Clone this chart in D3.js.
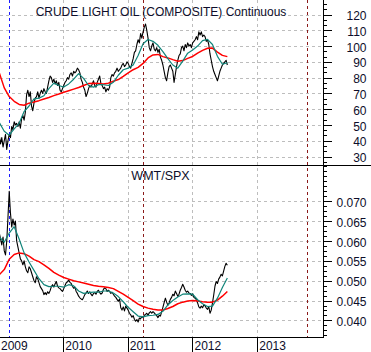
<!DOCTYPE html>
<html>
<head>
<meta charset="utf-8">
<script src="https://cdn.jsdelivr.net/npm/d3@7"></script>
<style>
  body { margin: 0; background: #fff; }
  svg { display: block; font-family: "Liberation Sans", Arial, sans-serif; }
</style>
</head>
<body>
<div id="chart"></div>
<script>
// weekly closes, starting Mon 5 Jan 2009
const oilClose = [
  43, 38, 42, 36, 40, 44,
  34.5, 40, 44, 42, 49, 47, 52, 50, 51, 49, 52, 48, 54, 56, 53, 58,
  69, 72, 68, 71, 62, 59, 64, 67, 68, 71, 67, 70, 72, 70, 73, 71,
  70, 74, 78, 81, 80, 77, 79, 76, 78, 75, 77, 72, 71, 73, 75, 77,
  78, 80, 79, 82, 83, 81, 84, 83, 84, 86, 85, 83, 79, 77, 74, 72,
  68, 70, 73, 75, 74, 76, 78, 75, 74, 77, 79, 81, 76, 75, 73, 74,
  71, 73, 72, 74, 80, 82, 81, 83, 84, 86, 84, 85, 86, 88, 89, 87,
  88, 90, 89, 87, 86, 89, 92, 96, 97, 101, 104, 102, 108, 105, 109, 112,
  114, 110, 105, 99, 97, 100, 102, 98, 97, 99, 96, 98, 93, 91, 88, 84,
  80, 78, 83, 87, 88, 86, 84, 77, 82, 87, 91, 94, 95, 99, 100, 97,
  101, 99, 102, 100, 101, 99, 102, 103, 104, 106, 104, 109, 107, 109, 106, 107,
  106, 103, 104, 101, 95, 91, 87, 84, 82, 80, 78, 81, 84, 86, 88, 89,
  90, 91, 88
]

const wmtClose = [
  0.0620, 0.0605, 0.0590, 0.0610, 0.0575, 0.0565,
  0.0600, 0.0660, 0.0725, 0.0670, 0.0635, 0.0655, 0.0640, 0.0650, 0.0600, 0.0585, 0.0570, 0.0555, 0.0550, 0.0540, 0.0550, 0.0535,
  0.0525, 0.0520, 0.0535, 0.0530, 0.0520, 0.0510, 0.0500, 0.0495, 0.0510, 0.0505, 0.0495, 0.0485, 0.0480, 0.0475, 0.0465, 0.0470,
  0.0465, 0.0472, 0.0468, 0.0475, 0.0485, 0.0490, 0.0484, 0.0492, 0.0498, 0.0486, 0.0482, 0.0480, 0.0476, 0.0473, 0.0480, 0.0488,
  0.0495, 0.0497, 0.0502, 0.0496, 0.0493, 0.0486, 0.0481, 0.0484, 0.0473, 0.0468, 0.0461, 0.0457, 0.0454, 0.0452, 0.0458, 0.0465,
  0.0469, 0.0474, 0.0468, 0.0472, 0.0466, 0.0462, 0.0468, 0.0470, 0.0466, 0.0473, 0.0476, 0.0470, 0.0466, 0.0469, 0.0478, 0.0482,
  0.0480, 0.0473, 0.0476, 0.0473, 0.0468, 0.0471, 0.0466, 0.0461, 0.0458, 0.0453, 0.0448, 0.0454, 0.0432, 0.0426, 0.0434, 0.0424,
  0.0436, 0.0431, 0.0426, 0.0418, 0.0414, 0.0408, 0.0412, 0.0403, 0.0398, 0.0402, 0.0396, 0.0406, 0.0404, 0.0410, 0.0407, 0.0413,
  0.0415, 0.0418, 0.0413, 0.0419, 0.0422, 0.0418, 0.0422, 0.0419, 0.0415, 0.0412, 0.0407, 0.0413, 0.0411, 0.0422, 0.0433, 0.0445,
  0.0456, 0.0446, 0.0438, 0.0444, 0.0453, 0.0458, 0.0466, 0.0462, 0.0474, 0.0468, 0.0461, 0.0466, 0.0476, 0.0483, 0.0491, 0.0484,
  0.0476, 0.0471, 0.0474, 0.0469, 0.0468, 0.0463, 0.0467, 0.0458, 0.0456, 0.0452, 0.0444, 0.0434, 0.0431, 0.0436, 0.0432, 0.0439,
  0.0437, 0.0431, 0.0428, 0.0435, 0.0418, 0.0426, 0.0444, 0.0464, 0.0486, 0.0498, 0.0493, 0.0504, 0.0509, 0.0516, 0.0512, 0.0524,
  0.0536, 0.0544, 0.0539
]

// moving averages, every 4th week
const oilMaShort = [
  51.5, 46, 43.5, 47.5, 51, 58.5, 62, 66.5, 67, 68.5, 73, 76.5, 75, 74, 76, 79,
  82.5, 79.5, 75, 74, 75.5, 75.5, 75, 77, 81.5, 85, 86, 88, 94, 101.5, 104.2, 103,
  100.5, 96.5, 92, 88, 86, 90.5, 95.5, 97.5, 100, 103.5, 104.2, 101, 93.5, 88.5, 89.5
]
const oilMaLong = [
  83, 73.5, 68, 65, 63, 62.5, 63.8, 64.6, 65.4, 66.5, 67.4, 68.6, 69.6, 70.7, 71.7, 72.7,
  73.7, 75, 76.2, 76.4, 76.2, 76, 76.5, 77.7, 78.8, 80.8, 83, 85, 86.5, 89, 92.5, 94.4,
  94.7, 93.3, 92.5, 91.4, 90.4, 90.8, 92.2, 93.4, 95.5, 97.3, 98.6, 98.7, 96.2, 94.1, 93.3
]
const wmtMaShort = [
  0.0610, 0.0597, 0.0620, 0.0636, 0.0605, 0.0570, 0.0547, 0.0526, 0.0505, 0.0490, 0.0485, 0.0486, 0.0486, 0.0484, 0.0490, 0.0487,
  0.0474, 0.0468, 0.0470, 0.0471, 0.0471, 0.0474, 0.0474, 0.0469, 0.0460, 0.0447, 0.0433, 0.0422, 0.0411, 0.0409, 0.0412, 0.0413,
  0.0415, 0.0423, 0.0439, 0.0450, 0.0459, 0.0466, 0.0467, 0.0466, 0.0452, 0.0442, 0.0435, 0.0436, 0.0456, 0.0483, 0.0507
]
const wmtMaLong = [
  0.0515, 0.0528, 0.0554, 0.0566, 0.0570, 0.0568, 0.0562, 0.0553, 0.0548, 0.0540, 0.0531, 0.0521, 0.0514, 0.0508, 0.0504, 0.0500,
  0.0497, 0.0494, 0.0491, 0.0488, 0.0486, 0.0485, 0.0483, 0.0480, 0.0473, 0.0466, 0.0458, 0.0450, 0.0441, 0.0435, 0.0431, 0.0428,
  0.0426, 0.0426, 0.0430, 0.0435, 0.0442, 0.0446, 0.0449, 0.0450, 0.0449, 0.0447, 0.0446, 0.0446, 0.0451, 0.0461, 0.0473
]

const years = [2009, 2010, 2011, 2012, 2013]
const oilTicks = [30, 40, 50, 60, 70, 80, 90, 100, 110, 120]
const wmtTicks = [0.040, 0.045, 0.050, 0.055, 0.060, 0.065, 0.070]
const markers = [
  { date: '2009-03-03', color: '#1a1aff' },
  { date: '2011-03-28', color: '#8b1a1a' },
  { date: '2013-10-10', color: '#8b1a1a' }
]

const W = 371, H = 352
const plotRight = 323.5, splitY = 165.5, bottomY = 337.5

const weeks = d3.timeMonday.range(new Date(2009, 0, 5), new Date(2013, 0, 1))
const maWeeks = weeks.filter((d, i) => i % 4 === 0)

const x = d3.scaleTime()
  .domain([new Date(2009, 0, 1), new Date(2014, 0, 1)])
  .range([-1.4, 321.9])
const yOil = d3.scaleLinear().domain([24.3, 129.2]).range([splitY, 0])
const yWmt = d3.scaleLinear().domain([0.0357, 0.079]).range([bottomY, splitY])

const svg = d3.select('#chart').append('svg')
  .attr('width', W)
  .attr('height', H)

const defs = svg.append('defs')
defs.append('clipPath').attr('id', 'clip-top')
  .append('rect').attr('x', 0).attr('y', 0).attr('width', plotRight).attr('height', splitY)
defs.append('clipPath').attr('id', 'clip-bot')
  .append('rect').attr('x', 0).attr('y', splitY).attr('width', plotRight).attr('height', bottomY - splitY)

// grid
const grid = svg.append('g')
  .attr('stroke', '#bdbdbd')
  .attr('stroke-dasharray', '3,3')
  .attr('shape-rendering', 'crispEdges')
grid.selectAll('.hg-top').data(oilTicks).join('line')
  .attr('x1', 0).attr('x2', plotRight)
  .attr('y1', d => Math.round(yOil(d)) + 0.5).attr('y2', d => Math.round(yOil(d)) + 0.5)
grid.selectAll('.hg-bot').data(wmtTicks).join('line')
  .attr('x1', 0).attr('x2', plotRight)
  .attr('y1', d => Math.round(yWmt(d)) + 0.5).attr('y2', d => Math.round(yWmt(d)) + 0.5)
grid.selectAll('.vg').data(years.slice(1)).join('line')
  .attr('x1', d => Math.round(x(new Date(d, 0, 1))) + 0.5)
  .attr('x2', d => Math.round(x(new Date(d, 0, 1))) + 0.5)
  .attr('y1', 0).attr('y2', bottomY)

svg.append('g').selectAll('line').data(markers).join('line')
  .attr('x1', d => Math.round(x(new Date(d.date))) + 0.5)
  .attr('x2', d => Math.round(x(new Date(d.date))) + 0.5)
  .attr('y1', 0).attr('y2', bottomY)
  .attr('stroke', d => d.color)
  .attr('stroke-dasharray', '3,3')
  .attr('shape-rendering', 'crispEdges')

// series
function drawLine(g, dates, values, yScale, color, width) {
  const pts = values.map((v, i) => [dates[i], v])
  g.append('path')
    .datum(pts)
    .attr('fill', 'none')
    .attr('stroke', color)
    .attr('stroke-width', width)
    .attr('stroke-linejoin', 'round')
    .attr('d', d3.line().x(d => x(d[0])).y(d => yScale(d[1])))
}

const topG = svg.append('g').attr('clip-path', 'url(#clip-top)')
drawLine(topG, weeks, oilClose, yOil, '#000', 1.1)
drawLine(topG, maWeeks, oilMaLong, yOil, '#ff0000', 1.5)
drawLine(topG, maWeeks, oilMaShort, yOil, '#11857a', 1.2)

const botG = svg.append('g').attr('clip-path', 'url(#clip-bot)')
drawLine(botG, weeks, wmtClose, yWmt, '#000', 1.1)
drawLine(botG, maWeeks, wmtMaLong, yWmt, '#ff0000', 1.5)
drawLine(botG, maWeeks, wmtMaShort, yWmt, '#11857a', 1.2)

// frame lines
const frame = svg.append('g').attr('stroke', '#000').attr('shape-rendering', 'crispEdges')
frame.append('line').attr('x1', 0).attr('x2', W).attr('y1', splitY).attr('y2', splitY)
frame.append('line').attr('x1', 0).attr('x2', plotRight).attr('y1', bottomY).attr('y2', bottomY)
frame.append('line').attr('x1', plotRight).attr('x2', plotRight).attr('y1', 0).attr('y2', bottomY)

// right axes
function rightAxis(yScale, majors, minorStep, lo, hi, fmt) {
  const minors = d3.range(Math.ceil(lo / minorStep) * minorStep, hi, minorStep)
  const g = svg.append('g').attr('transform', `translate(${plotRight},0)`)
  g.call(d3.axisRight(yScale).tickValues(minors).tickSize(3).tickFormat(''))
  g.select('.domain').remove()
  const gm = svg.append('g').attr('transform', `translate(${plotRight},0)`)
  gm.call(d3.axisRight(yScale).tickValues(majors).tickSize(8).tickFormat(fmt))
  gm.select('.domain').remove()
  gm.selectAll('line').attr('shape-rendering', 'crispEdges')
  g.selectAll('line').attr('shape-rendering', 'crispEdges')
  gm.selectAll('text')
    .attr('x', 43)
    .attr('dy', '0.42em')
    .attr('text-anchor', 'end')
    .attr('font-size', 12)
    .attr('font-family', '"Liberation Sans", Arial, sans-serif')
    .attr('fill', '#0d0d2a')
}
rightAxis(yOil, oilTicks, 10 / 3, 25, 129, d3.format('d'))
rightAxis(yWmt, wmtTicks, 0.00125, 0.036, 0.0789, d3.format('.3f'))

// year axis
const yearAxis = svg.append('g')
yearAxis.selectAll('line').data(years).join('line')
  .attr('x1', d => Math.round(x(new Date(d, 0, 1))) + 0.5)
  .attr('x2', d => Math.round(x(new Date(d, 0, 1))) + 0.5)
  .attr('y1', bottomY).attr('y2', H)
  .attr('stroke', '#000')
  .attr('shape-rendering', 'crispEdges')
yearAxis.selectAll('text').data(years).join('text')
  .attr('x', d => Math.max(1, x(new Date(d, 0, 1)) + 2))
  .attr('y', 350)
  .attr('font-size', 12)
  .attr('fill', '#0d0d2a')
  .text(d => d)

// titles
svg.append('text')
  .attr('x', 161).attr('y', 15.5)
  .attr('text-anchor', 'middle')
  .attr('font-size', 12)
  .attr('fill', '#0d0d2a')
  .text('CRUDE LIGHT OIL (COMPOSITE) Continuous')
svg.append('text')
  .attr('x', 160.5).attr('y', 180)
  .attr('text-anchor', 'middle')
  .attr('font-size', 12.5)
  .attr('fill', '#0d0d2a')
  .text('WMT/SPX')
</script>
</body>
</html>
